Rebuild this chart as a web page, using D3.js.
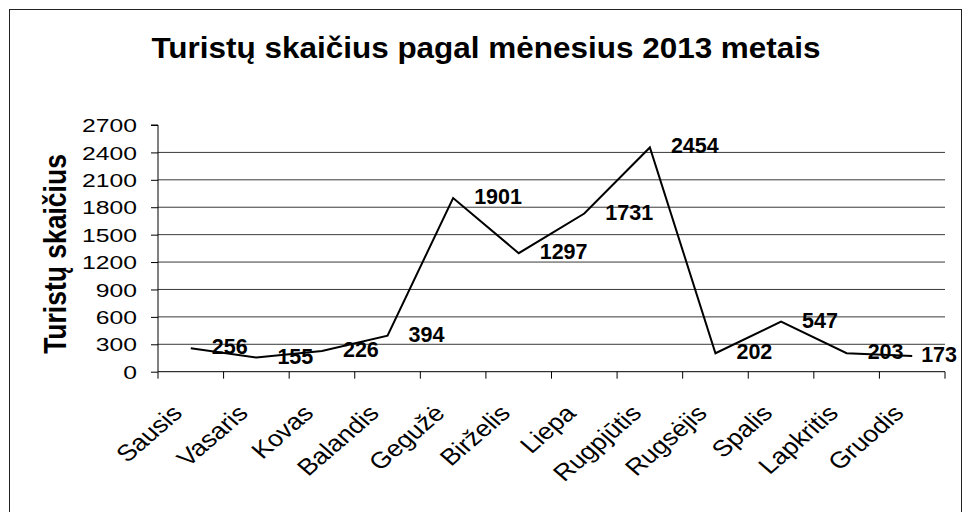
<!DOCTYPE html>
<html>
<head>
<meta charset="utf-8">
<script src="https://cdn.jsdelivr.net/npm/d3@7"></script>
<style>
  html, body { margin: 0; padding: 0; background: #fff; }
  svg { display: block; font-family: 'Liberation Sans', Arial, sans-serif; }
</style>
</head>
<body>
<div id="chart"></div>
<script>
const months = ['Sausis', 'Vasaris', 'Kovas', 'Balandis', 'Gegužė', 'Birželis',
  'Liepa', 'Rugpjūtis', 'Rugsėjis', 'Spalis', 'Lapkritis', 'Gruodis'];
const tourists = [256, 155, 226, 394, 1901, 1297, 1731, 2454, 202, 547, 203, 173];
const yTicks = [0, 300, 600, 900, 1200, 1500, 1800, 2100, 2400, 2700];
const titleText = 'Turistų skaičius pagal mėnesius 2013 metais';
const yTitleText = 'Turistų skaičius';

(() => {
  const w = 966;
  const h = 512;
  const plot = { left: 158, right: 945, top: 125, bottom: 371.7 };
  const labelLimit = 957;

  const svg = d3.select('#chart').append('svg')
    .attr('width', w)
    .attr('height', h);

  // outer chart frame
  svg.append('rect')
    .attr('x', 9.5).attr('y', 9.5)
    .attr('width', 952).attr('height', 520)
    .attr('fill', 'none')
    .attr('stroke', '#222')
    .attr('stroke-width', 1);

  const x = d3.scaleBand().domain(months).range([plot.left, plot.right]).padding(0);
  const y = d3.scaleLinear().domain([0, 2700]).range([plot.bottom, plot.top]);
  const cx = d => x(d) + x.bandwidth() / 2;

  // gridlines
  svg.append('g')
    .selectAll('line')
    .data(yTicks.filter(t => t > 0 && t < 2700))
    .enter().append('line')
    .attr('x1', plot.left).attr('x2', plot.right)
    .attr('y1', d => y(d)).attr('y2', d => y(d))
    .attr('stroke', '#3a3a3a')
    .attr('stroke-width', 1);

  // y axis
  const yAxis = svg.append('g')
    .attr('transform', `translate(${plot.left},0)`)
    .call(d3.axisLeft(y).tickValues(yTicks).tickSize(7).tickPadding(0).tickFormat(d3.format('d')));
  yAxis.select('.domain').attr('stroke', '#000').attr('d', `M-7,${plot.top}H0V${plot.bottom}`);
  yAxis.selectAll('.tick line').attr('stroke', '#000');
  yAxis.selectAll('.tick text')
    .attr('x', null).attr('dy', null)
    .attr('text-anchor', 'end')
    .attr('font-size', 19)
    .attr('fill', '#000')
    .attr('transform', 'translate(-21,6.7) scale(1.3,1)');

  // x axis: ticks on category boundaries
  const xg = svg.append('g');
  xg.append('line')
    .attr('x1', plot.left).attr('x2', plot.right)
    .attr('y1', plot.bottom).attr('y2', plot.bottom)
    .attr('stroke', '#000');
  xg.selectAll('line.tk')
    .data(months.concat(['end']))
    .enter().append('line')
    .attr('class', 'tk')
    .attr('x1', d => (d === 'end' ? plot.right : x(d)))
    .attr('x2', d => (d === 'end' ? plot.right : x(d)))
    .attr('y1', plot.bottom).attr('y2', plot.bottom + 7)
    .attr('stroke', '#000');
  xg.selectAll('text')
    .data(months)
    .enter().append('text')
    .attr('text-anchor', 'end')
    .attr('font-size', 23)
    .attr('fill', '#000')
    .attr('transform', d => `translate(${cx(d) - 7},${plot.bottom + 43}) scale(1.16,1) rotate(-45)`)
    .text(d => d);

  // line
  const line = d3.line()
    .x((d, i) => cx(months[i]))
    .y(d => y(d));
  svg.append('path')
    .datum(tourists)
    .attr('d', line)
    .attr('fill', 'none')
    .attr('stroke', '#000')
    .attr('stroke-width', 2)
    .attr('stroke-linejoin', 'miter');

  // data labels, pushed back inside the frame when they would overflow
  svg.append('g')
    .selectAll('text')
    .data(tourists)
    .enter().append('text')
    .attr('y', d => y(d) + 6)
    .attr('font-size', 21.5)
    .attr('font-weight', 'bold')
    .attr('fill', '#000')
    .text(d => d)
    .attr('x', function (d, i) {
      const tw = this.getComputedTextLength();
      return Math.min(cx(months[i]) + 21, labelLimit - tw);
    });

  // titles
  svg.append('text')
    .attr('transform', 'translate(486,58) scale(1.085,1)')
    .attr('text-anchor', 'middle')
    .attr('font-size', 29)
    .attr('font-weight', 'bold')
    .text(titleText);

  svg.append('text')
    .attr('transform', 'translate(66,254) scale(1.15,1) rotate(-90)')
    .attr('text-anchor', 'middle')
    .attr('font-size', 26.5)
    .attr('font-weight', 'bold')
    .text(yTitleText);
})();
</script>
</body>
</html>
